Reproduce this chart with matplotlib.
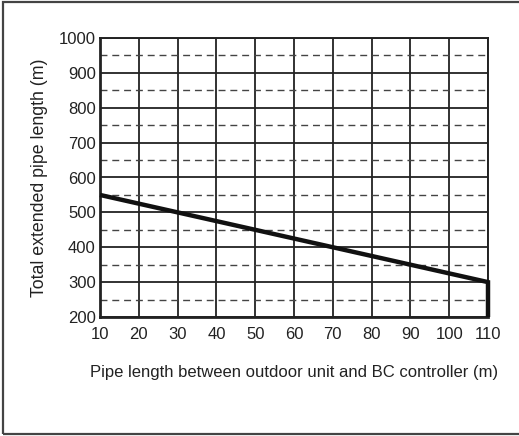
import matplotlib
matplotlib.use("Agg")
import matplotlib.pyplot as plt
from matplotlib.patches import Rectangle

plt.rcParams['font.family'] = ['Liberation Sans', 'DejaVu Sans']

# Allowable total extended pipe length vs. outdoor-unit-to-BC-controller length
pipe_length = [10, 110, 110]
total_length = [550, 300, 200]

x_ticks = [10, 20, 30, 40, 50, 60, 70, 80, 90, 100, 110]
y_ticks = [200, 300, 400, 500, 600, 700, 800, 900, 1000]
y_minor = [250, 350, 450, 550, 650, 750, 850, 950]

W, H = 519, 436
fig = plt.figure(figsize=(W / 100, H / 100), dpi=100)

# outer frame
fig.patches.append(Rectangle((3 / W, 2 / H), 1.2, (434 - 2) / H, transform=fig.transFigure,
                             fill=False, edgecolor='#444444', linewidth=1.6))

ax = fig.add_axes([100 / W, 1 - 317 / H, (488 - 100) / W, (317 - 38) / H])
ax.set_xlim(10, 110)
ax.set_ylim(200, 1000)
ax.set_xticks(x_ticks)
ax.set_yticks(y_ticks)
ax.set_yticks(y_minor, minor=True)
ax.tick_params(which='both', length=0, labelsize=12, colors='#222222', pad=3)
ax.tick_params(axis='x', pad=7)

ax.grid(which='major', color='#222222', linewidth=1.3)
ax.grid(which='minor', axis='y', color='#444444', linewidth=1.0, linestyle=(0, (5, 3.5)))
ax.set_axisbelow(True)

for side in ('left', 'bottom'):
    ax.spines[side].set_linewidth(2.0)
    ax.spines[side].set_color('#222222')
for side in ('top', 'right'):
    ax.spines[side].set_linewidth(1.4)
    ax.spines[side].set_color('#222222')

ax.plot(pipe_length, total_length, color='#111111', linewidth=3.2, solid_capstyle='butt',
        solid_joinstyle='miter', clip_on=False, zorder=5)

ax.set_ylabel('Total extended pipe length (m)', fontsize=12.8, color='#222222', labelpad=8)
ax.set_xlabel('Pipe length between outdoor unit and BC controller (m)', fontsize=12,
              color='#222222', labelpad=17)

fig.savefig('out.png', dpi=100)
